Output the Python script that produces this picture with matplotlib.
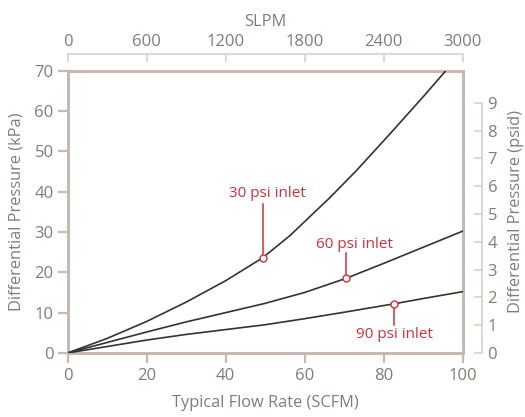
import matplotlib
matplotlib.use("Agg")
import matplotlib.pyplot as plt
import numpy as np

plt.rcParams['font.family'] = ['Open Sans', 'DejaVu Sans']

# Data (SCFM vs kPa)
flow_30 = [0, 10, 20, 30, 40, 49.4, 56.3, 66.5, 73.2, 81.6, 90.1, 95.6]
dp_30 = [0, 3.6, 7.8, 12.6, 17.9, 23.6, 29.1, 38.6, 45.3, 54.3, 63.6, 69.8]
flow_60 = [0, 10, 20, 30, 40, 50, 60, 70.5, 80, 90, 100]
dp_60 = [0, 2.6, 5.2, 7.7, 10.0, 12.3, 15.0, 18.5, 22.2, 26.2, 30.2]
flow_90 = [0, 10, 20, 30, 40, 50, 60, 70, 82.7, 90, 100]
dp_90 = [0, 1.6, 3.2, 4.6, 5.8, 7.0, 8.5, 10.1, 12.2, 13.5, 15.2]

labels = ["30 psi inlet", "60 psi inlet", "90 psi inlet"]
marker_pts = [(49.4, 23.6), (70.5, 18.5), (82.7, 12.2)]
label_pts = [(50.6, 39.6), (72.7, 27.0), (82.7, 4.6)]
leader_ends = [37.0, 24.7, 7.0]

x_ticks = [0, 20, 40, 60, 80, 100]
y_ticks = [0, 10, 20, 30, 40, 50, 60, 70]
slpm_ticks = [0, 600, 1200, 1800, 2400, 3000]
psid_ticks = list(range(0, 10))
KPA_PER_PSI = 6.895

TEXT = '#847b77'
SPINE = '#c4bab3'
LIGHT = '#d9d1cb'
RED = '#d0303c'
LINE = '#333333'
TICK_FS = 12
LABEL_FS = 11.8

fig = plt.figure(figsize=(5.25, 4.17), dpi=100)
ax = fig.add_axes([0.1286, 0.1535, 0.7524, 0.677])

for fx, fy in [(flow_30, dp_30), (flow_60, dp_60), (flow_90, dp_90)]:
    ax.plot(fx, fy, color=LINE, lw=1.2, zorder=3)

for lab, (mx, my), (lx, ly), le in zip(labels, marker_pts, label_pts, leader_ends):
    ax.plot([mx, mx], [my, le], color=RED, lw=1.1, zorder=4)
    ax.plot(mx, my, 'o', ms=5, mfc='white', mec=RED, mew=1.0, zorder=5)
    ax.text(lx, ly, lab, color=RED, fontsize=11, ha='center', va='center')

ax.set_xlim(0, 100)
ax.set_ylim(0, 70)
ax.set_xticks(x_ticks)
ax.set_yticks(y_ticks)
for s in ax.spines.values():
    s.set_color(SPINE)
    s.set_linewidth(2.2)
ax.tick_params(axis='both', colors=SPINE, labelcolor=TEXT, labelsize=TICK_FS,
               length=7, width=1.6, direction='out')
ax.tick_params(axis='x', pad=4)
ax.tick_params(axis='y', pad=3)
ax.set_xlabel('Typical Flow Rate (SCFM)', color=TEXT, fontsize=LABEL_FS, labelpad=8)
ax.set_ylabel('Differential Pressure (kPa)', color=TEXT, fontsize=LABEL_FS, labelpad=7)

# Top SLPM axis
axt = ax.twiny()
axt.set_xlim(0, 3000)
axt.set_xticks(slpm_ticks)
for k in ['left', 'right', 'bottom']:
    axt.spines[k].set_visible(False)
axt.spines['top'].set_position(('outward', 12))
axt.spines['top'].set_color(LIGHT)
axt.spines['top'].set_linewidth(1.2)
axt.spines['top'].set_bounds(0, 3000)
axt.tick_params(axis='x', colors=LIGHT, labelcolor=TEXT, labelsize=TICK_FS,
                length=6, width=1.2, direction='in', pad=3)
axt.set_xlabel('SLPM', color=TEXT, fontsize=LABEL_FS, labelpad=6)

# Right psid axis
axr = ax.twinx()
axr.set_ylim(0, 70 / KPA_PER_PSI)
axr.set_yticks(psid_ticks)
for k in ['left', 'top', 'bottom']:
    axr.spines[k].set_visible(False)
axr.spines['right'].set_position(('outward', 14))
axr.spines['right'].set_color(LIGHT)
axr.spines['right'].set_linewidth(1.2)
axr.spines['right'].set_bounds(0, 9)
axr.tick_params(axis='y', colors=LIGHT, labelcolor=TEXT, labelsize=TICK_FS,
                length=6, width=1.2, direction='in', pad=4)
axr.set_ylabel('Differential Pressure (psid)', color=TEXT, fontsize=LABEL_FS, labelpad=8)

fig.savefig('out.png', dpi=100)
